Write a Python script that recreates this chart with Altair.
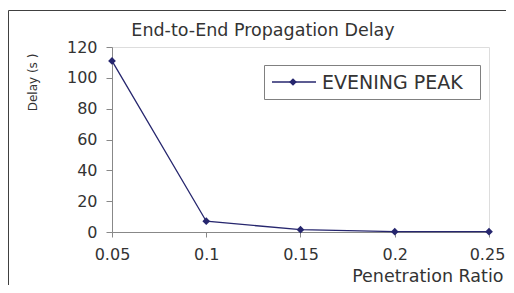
import altair as alt
import pandas as pd

# ---- data ----
ratios = [0.05, 0.1, 0.15, 0.2, 0.25]
delays = [111.0, 7.0, 1.5, 0.2, 0.2]
series_name = ["EVENING PEAK"]
x_ticks = [0.05, 0.1, 0.15, 0.2, 0.25]
y_ticks = [0, 20, 40, 60, 80, 100, 120]
chart_title = ["End-to-End Propagation Delay"]
x_title = "Penetration Ratio"
y_title = "Delay (s )"

NAVY = "#26266e"
FONT = "DejaVu Sans"
W, H = 377, 185

df = pd.DataFrame({"ratio": ratios, "delay": delays})
leg = pd.DataFrame({"name": series_name})
ttl = pd.DataFrame({"t": chart_title})

x_enc = alt.X(
    "ratio:Q",
    scale=alt.Scale(domain=[0.05, 0.25], nice=False, zero=False),
    axis=alt.Axis(
        values=x_ticks, format="~g", grid=False, title=x_title,
        domainColor="#888888", tickColor="#888888", tickSize=5,
        labelFont=FONT, labelFontSize=16, labelColor="#333333",
        labelPadding=9, labelFlush=False, labelOverlap=False, labelBound=False,
        labelOffset={"condition": {"test": "datum.value > 0.24", "value": -2}, "value": 0},
        titleFont=FONT, titleFontSize=17.5, titleFontWeight="normal",
        titleColor="#333333", titleX=W + 14, titleY=49,
        titleAlign="right", titleBaseline="alphabetic", titleAnchor="end",
    ),
)
y_enc = alt.Y(
    "delay:Q",
    scale=alt.Scale(domain=[0, 120], nice=False),
    axis=alt.Axis(
        values=y_ticks, tickCount=7, grid=False, title=y_title,
        domainColor="#888888", tickColor="#888888", tickSize=6,
        labelFont=FONT, labelFontSize=16, labelColor="#333333",
        labelPadding=9, labelFlush=False, labelOverlap=False, labelBound=False,
        titleFont=FONT, titleFontSize=12, titleFontWeight="normal",
        titleColor="#333333", titleX=-76, titleY=35, titleAngle=270,
        titleAlign="center", titleBaseline="alphabetic",
    ),
)

base = alt.Chart(df).encode(x=x_enc, y=y_enc)
line = base.mark_line(color=NAVY, strokeWidth=1.3)
pts = base.mark_point(shape="diamond", filled=True, color=NAVY, size=60, opacity=1)

# outer frame (decoration)
frame = alt.Chart(leg).mark_rect(fill=None, stroke="#404040", strokeWidth=1).encode(
    x=alt.value(-103.5), x2=alt.value(W + 60), y=alt.value(-36.5), y2=alt.value(H + 60)
)

# chart title
title_txt = alt.Chart(ttl).mark_text(
    align="center", baseline="alphabetic", font=FONT, fontSize=17.5, color="#333333"
).encode(x=alt.value(151), y=alt.value(-11), text="t:N")

# legend (decoration built from the series name)
leg_box = alt.Chart(leg).mark_rect(fill="white", stroke="#808080", strokeWidth=1).encode(
    x=alt.value(152.5), x2=alt.value(368.5), y=alt.value(18.5), y2=alt.value(52.5)
)
leg_line = alt.Chart(leg).mark_rule(color=NAVY, strokeWidth=1.3).encode(
    x=alt.value(160), x2=alt.value(204), y=alt.value(35)
)
leg_pt = alt.Chart(leg).mark_point(
    shape="diamond", filled=True, color=NAVY, size=60, opacity=1
).encode(x=alt.value(181), y=alt.value(35))
leg_txt = alt.Chart(leg).mark_text(
    align="left", baseline="middle", font=FONT, fontSize=19, color="#333333"
).encode(x=alt.value(210), y=alt.value(35.5), text="name:N")

chart = alt.layer(line, pts, frame, title_txt, leg_box, leg_line, leg_pt, leg_txt).properties(
    width=W, height=H,
    autosize=alt.AutoSizeParams(type="none"),
    padding={"left": 104, "top": 39, "right": 17, "bottom": 53},
).configure_view(stroke=None).configure(background="white")

chart.save("out.html", embed_options={"renderer": "svg", "actions": False})
